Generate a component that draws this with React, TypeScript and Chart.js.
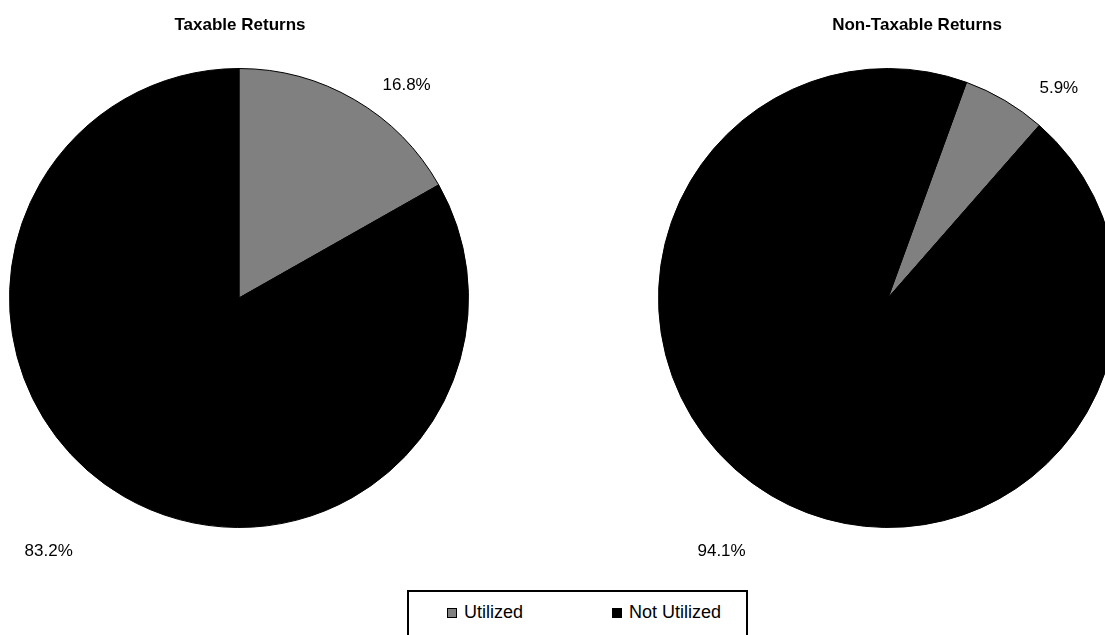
import React, { useEffect, useRef } from "react";
import { Chart, registerables } from "chart.js";

Chart.register(...registerables);

const categories = ["Utilized", "Not Utilized"];
const taxableValues = [16.8, 83.2];
const nonTaxableValues = [5.9, 94.1];
const titles = ["Taxable Returns", "Non-Taxable Returns"];
const sliceColors = ["#808080", "#000000"];

const FONT = "'Liberation Sans', Arial, sans-serif";

type PieSpec = {
  values: number[];
  title: string;
  rotation: number;
  left: number;
  width: number;
  pad: { left: number; right: number; top: number; bottom: number };
  titleX: number;
  labelShift: number[];
  labelDist: number[];
};

const specs: PieSpec[] = [
  {
    values: taxableValues,
    title: titles[0],
    rotation: 0,
    left: 0,
    width: 480,
    pad: { left: 8, right: 10, top: 68, bottom: 32 },
    titleX: 240,
    labelShift: [8, 6.7],
    labelDist: [1.18, 1.38],
  },
  {
    values: nonTaxableValues,
    title: titles[1],
    rotation: 20,
    left: 560,
    width: 580,
    pad: { left: 98, right: 22, top: 68, bottom: 32 },
    titleX: 357,
    labelShift: [8.5, 2.7],
    labelDist: [1.18, 1.32],
  },
];

const labelPlugin = {
  id: "pieLabels",
  afterDraw(chart: any) {
    const ctx = chart.ctx as CanvasRenderingContext2D;
    const meta = chart.getDatasetMeta(0);
    const data = chart.data.datasets[0].data as number[];
    const opts = chart.options.plugins.pieTitle;
    ctx.save();
    ctx.fillStyle = "#000";
    ctx.font = `17px ${FONT}`;
    ctx.textAlign = "center";
    ctx.textBaseline = "middle";
    meta.data.forEach((arc: any, i: number) => {
      const p = arc.getProps(["x", "y", "startAngle", "endAngle", "outerRadius"], true);
      const mid = (p.startAngle + p.endAngle) / 2 + (opts.shift[i] * Math.PI) / 180;
      const dist = p.outerRadius * opts.dist[i];
      const tx = p.x + Math.cos(mid) * dist;
      const ty = p.y + Math.sin(mid) * dist;
      ctx.fillText(data[i].toFixed(1) + "%", tx, ty);
    });
    ctx.font = `bold 17px ${FONT}`;
    ctx.fillText(opts.text, opts.x, 25);
    ctx.restore();
  },
};

function PieCanvas({ spec }: { spec: PieSpec }) {
  const ref = useRef<HTMLCanvasElement | null>(null);
  useEffect(() => {
    if (!ref.current) return;
    const chart = new Chart(ref.current, {
      type: "pie",
      data: {
        labels: categories,
        datasets: [
          {
            data: spec.values,
            backgroundColor: sliceColors,
            borderColor: "#000000",
            borderWidth: 1,
          },
        ],
      },
      options: {
        responsive: false,
        animation: false,
        devicePixelRatio: 1,
        rotation: spec.rotation,
        layout: { padding: spec.pad },
        plugins: {
          legend: { display: false },
          tooltip: { enabled: false },
          title: { display: false },
          // @ts-ignore
          pieTitle: {
            text: spec.title,
            x: spec.titleX,
            shift: spec.labelShift,
            dist: spec.labelDist,
          },
        },
      } as any,
      plugins: [labelPlugin],
    });
    return () => chart.destroy();
  }, [spec]);
  return (
    <canvas
      ref={ref}
      width={spec.width}
      height={560}
      style={{ position: "absolute", left: spec.left, top: 0, width: spec.width, height: 560 }}
    />
  );
}

export default function App() {
  return (
    <div
      style={{
        position: "fixed",
        left: 0,
        top: 0,
        width: 1105,
        height: 635,
        overflow: "hidden",
        background: "#fff",
        fontFamily: FONT,
      }}
    >
      {specs.map((s, i) => (
        <PieCanvas key={i} spec={s} />
      ))}
      <div
        style={{
          position: "absolute",
          left: 407,
          top: 590,
          width: 341,
          height: 60,
          border: "2px solid #000",
          boxSizing: "border-box",
        }}
      >
        {categories.map((c, i) => (
          <div
            key={c}
            style={{
              position: "absolute",
              left: i === 0 ? 38 : 203,
              top: 10,
              display: "flex",
              alignItems: "center",
              fontSize: 18,
              color: "#000",
              whiteSpace: "nowrap",
            }}
          >
            <span
              style={{
                display: "inline-block",
                width: 8,
                height: 8,
                background: sliceColors[i],
                border: "1px solid #000",
                marginRight: 7,
              }}
            />
            <span>{c}</span>
          </div>
        ))}
      </div>
    </div>
  );
}
